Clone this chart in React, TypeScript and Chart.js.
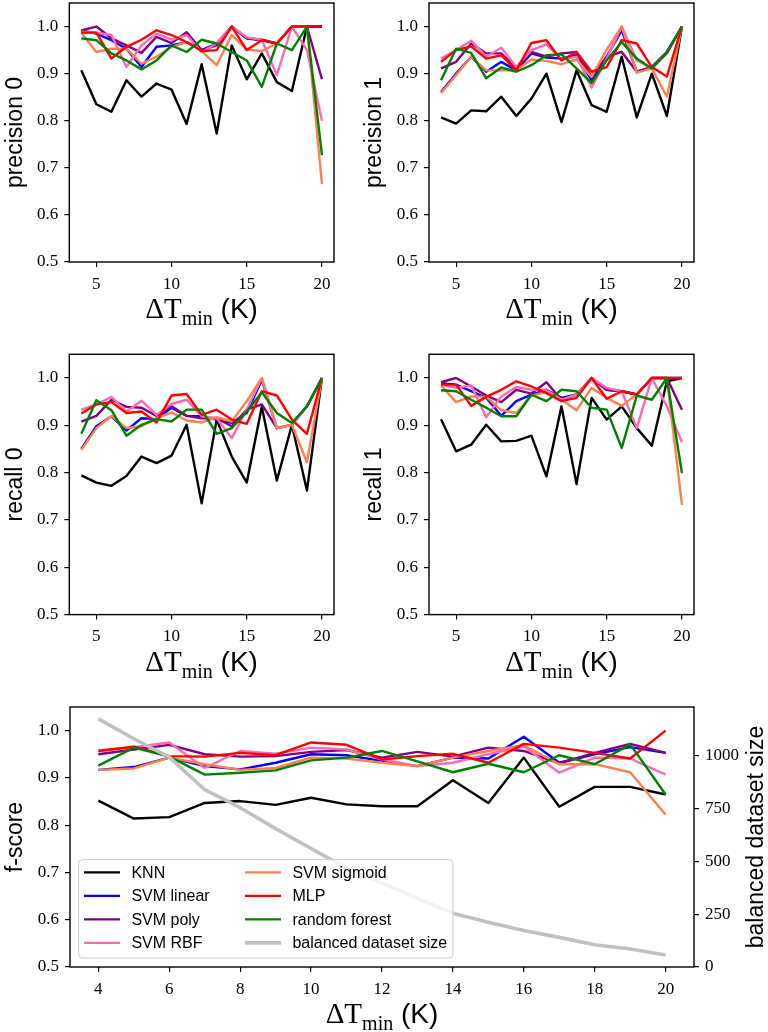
import { useEffect, useRef } from "react";
import { Chart, registerables } from "chart.js";

Chart.register(...registerables);

const deltaT = [4, 5, 6, 7, 8, 9, 10, 11, 12, 13, 14, 15, 16, 17, 18, 19, 20];
const models = ["KNN", "SVM linear", "SVM poly", "SVM RBF", "SVM sigmoid", "MLP", "random forest"];
const modelColors = ["#000000", "#0000ff", "#800080", "#ff69b4", "#ff7f50", "#ff0000", "#008000"];

// one row per model, same order as `models`
const precision0 = [
  [0.907, 0.835, 0.819, 0.886, 0.851, 0.879, 0.866, 0.793, 0.92, 0.773, 0.96, 0.888, 0.943, 0.882, 0.863, 1.0, 1.0],
  [0.992, 0.985, 0.971, 0.953, 0.914, 0.957, 0.96, 0.967, 0.95, 0.964, 1.0, 0.975, 0.971, 0.964, 1.0, 1.0, 1.0],
  [0.992, 1.0, 0.975, 0.96, 0.944, 0.978, 0.965, 0.988, 0.95, 0.96, 1.0, 0.975, 0.972, 0.964, 1.0, 1.0, 0.888],
  [0.989, 0.987, 0.982, 0.914, 0.96, 0.985, 0.972, 0.982, 0.946, 0.964, 1.0, 0.977, 0.972, 0.897, 1.0, 0.95, 0.8],
  [0.987, 0.946, 0.953, 0.953, 0.921, 0.936, 0.957, 0.967, 0.948, 0.918, 0.982, 0.951, 0.948, 0.964, 1.0, 1.0, 0.666],
  [0.987, 0.987, 0.932, 0.957, 0.972, 0.992, 0.982, 0.967, 0.948, 0.95, 1.0, 0.95, 0.971, 0.964, 1.0, 1.0, 1.0],
  [0.975, 0.971, 0.943, 0.928, 0.909, 0.928, 0.96, 0.946, 0.972, 0.964, 0.946, 0.928, 0.872, 0.964, 0.95, 1.0, 0.727],
];

const precision1 = [
  [0.807, 0.794, 0.822, 0.82, 0.851, 0.81, 0.847, 0.9, 0.797, 0.907, 0.833, 0.819, 0.936, 0.807, 0.9, 0.81, 1.0],
  [0.861, 0.9, 0.936, 0.904, 0.925, 0.907, 0.943, 0.934, 0.932, 0.939, 0.886, 0.936, 0.992, 0.904, 0.914, 0.946, 1.0],
  [0.911, 0.925, 0.964, 0.943, 0.943, 0.911, 0.946, 0.936, 0.943, 0.946, 0.893, 0.936, 0.946, 0.904, 0.914, 0.946, 1.0],
  [0.932, 0.95, 0.97, 0.936, 0.955, 0.914, 0.95, 0.962, 0.93, 0.936, 0.87, 0.932, 1.0, 0.928, 0.911, 0.943, 1.0],
  [0.859, 0.897, 0.936, 0.907, 0.907, 0.907, 0.93, 0.927, 0.92, 0.93, 0.893, 0.951, 1.0, 0.902, 0.911, 0.851, 1.0],
  [0.925, 0.95, 0.958, 0.932, 0.939, 0.907, 0.965, 0.971, 0.928, 0.946, 0.904, 0.914, 0.971, 0.964, 0.914, 0.894, 1.0],
  [0.886, 0.953, 0.944, 0.89, 0.913, 0.904, 0.918, 0.939, 0.941, 0.911, 0.88, 0.928, 0.967, 0.932, 0.911, 0.944, 1.0],
];

const recall0 = [
  [0.794, 0.779, 0.772, 0.793, 0.834, 0.82, 0.836, 0.901, 0.735, 0.912, 0.834, 0.779, 0.939, 0.783, 0.901, 0.762, 1.0],
  [0.85, 0.898, 0.919, 0.889, 0.915, 0.913, 0.937, 0.92, 0.919, 0.912, 0.905, 0.926, 0.996, 0.894, 0.901, 0.94, 1.0],
  [0.908, 0.92, 0.954, 0.939, 0.937, 0.92, 0.94, 0.92, 0.915, 0.915, 0.898, 0.933, 0.944, 0.894, 0.901, 0.94, 1.0],
  [0.933, 0.944, 0.96, 0.929, 0.952, 0.922, 0.945, 0.954, 0.919, 0.915, 0.873, 0.933, 1.0, 0.894, 0.901, 0.94, 1.0],
  [0.848, 0.894, 0.92, 0.894, 0.898, 0.915, 0.927, 0.91, 0.906, 0.917, 0.908, 0.951, 1.0, 0.894, 0.901, 0.822, 1.0],
  [0.925, 0.944, 0.949, 0.926, 0.929, 0.906, 0.963, 0.966, 0.922, 0.933, 0.912, 0.903, 0.972, 0.963, 0.912, 0.882, 1.0],
  [0.882, 0.953, 0.932, 0.878, 0.901, 0.913, 0.908, 0.933, 0.933, 0.882, 0.894, 0.929, 0.97, 0.926, 0.905, 0.94, 1.0],
];

const recall1 = [
  [0.913, 0.845, 0.859, 0.901, 0.866, 0.867, 0.878, 0.792, 0.94, 0.776, 0.958, 0.912, 0.94, 0.894, 0.857, 0.993, 1.0],
  [0.989, 0.986, 0.972, 0.958, 0.92, 0.951, 0.965, 0.975, 0.958, 0.965, 1.0, 0.975, 0.972, 0.965, 1.0, 1.0, 1.0],
  [0.991, 1.0, 0.982, 0.963, 0.949, 0.975, 0.967, 0.991, 0.954, 0.965, 1.0, 0.975, 0.972, 0.965, 1.0, 1.0, 0.933],
  [0.986, 0.979, 0.984, 0.917, 0.961, 0.981, 0.975, 0.975, 0.954, 0.965, 1.0, 0.979, 0.972, 0.894, 1.0, 0.94, 0.864],
  [0.984, 0.949, 0.961, 0.96, 0.932, 0.926, 0.963, 0.97, 0.954, 0.932, 0.979, 0.958, 0.941, 0.965, 1.0, 1.0, 0.732],
  [0.986, 0.986, 0.941, 0.96, 0.975, 0.993, 0.982, 0.968, 0.951, 0.958, 1.0, 0.956, 0.972, 0.965, 1.0, 1.0, 1.0],
  [0.974, 0.972, 0.954, 0.937, 0.919, 0.919, 0.965, 0.951, 0.975, 0.972, 0.937, 0.933, 0.852, 0.963, 0.954, 1.0, 0.799],
];

const fScore = [
  [0.852, 0.814, 0.817, 0.847, 0.851, 0.843, 0.858, 0.844, 0.84, 0.84, 0.895, 0.847, 0.943, 0.839, 0.881, 0.881, 0.865],
  [0.917, 0.923, 0.943, 0.925, 0.918, 0.932, 0.95, 0.948, 0.936, 0.925, 0.943, 0.941, 0.987, 0.932, 0.95, 0.965, 0.953],
  [0.95, 0.96, 0.97, 0.95, 0.945, 0.946, 0.955, 0.959, 0.943, 0.955, 0.945, 0.964, 0.957, 0.931, 0.953, 0.972, 0.953],
  [0.958, 0.965, 0.975, 0.921, 0.957, 0.951, 0.964, 0.96, 0.939, 0.925, 0.932, 0.95, 0.967, 0.911, 0.943, 0.941, 0.907],
  [0.917, 0.92, 0.943, 0.929, 0.917, 0.921, 0.943, 0.941, 0.932, 0.925, 0.943, 0.957, 0.969, 0.929, 0.929, 0.912, 0.822],
  [0.957, 0.966, 0.946, 0.945, 0.953, 0.948, 0.975, 0.97, 0.939, 0.946, 0.951, 0.932, 0.972, 0.964, 0.953, 0.941, 1.0],
  [0.926, 0.964, 0.945, 0.907, 0.911, 0.916, 0.937, 0.943, 0.957, 0.935, 0.912, 0.93, 0.912, 0.948, 0.929, 0.971, 0.865],
];

const datasetSize = [1173, 1079, 992, 838, 753, 654, 560, 466, 396, 325, 254, 212, 173, 140, 105, 85, 57];
const sizeLabel = "balanced dataset size";

const scoreTicks = [0.5, 0.6, 0.7, 0.8, 0.9, 1.0];
const coarseTicks = [5, 10, 15, 20];
const fineTicks = [4, 6, 8, 10, 12, 14, 16, 18, 20];
const sizeTicks = [0, 250, 500, 750, 1000];

const SERIF = "'Liberation Serif', 'DejaVu Serif', serif";
const SANS = "'Liberation Sans', Arial, sans-serif";

type Rect = { left: number; top: number; width: number; height: number };
type Area = { l: number; t: number; r: number; b: number };

function drawXLabel(ctx: CanvasRenderingContext2D, cx: number, baseline: number) {
  const main = `29px ${SERIF}`;
  const sub = `20px ${SERIF}`;
  const unit = `28px ${SANS}`;
  ctx.font = main;
  const w1 = ctx.measureText("ΔT").width;
  ctx.font = sub;
  const w2 = ctx.measureText("min").width;
  ctx.font = unit;
  const w3 = ctx.measureText(" (K)").width;
  let x = cx - (w1 + w2 + w3) / 2;
  ctx.textAlign = "left";
  ctx.textBaseline = "alphabetic";
  ctx.fillStyle = "#000";
  ctx.font = main;
  ctx.fillText("ΔT", x, baseline);
  x += w1;
  ctx.font = sub;
  ctx.fillText("min", x, baseline + 7);
  x += w2;
  ctx.font = unit;
  ctx.fillText(" (K)", x, baseline);
}

function drawVTitle(ctx: CanvasRenderingContext2D, text: string, x: number, y: number) {
  ctx.save();
  ctx.translate(x, y);
  ctx.rotate(-Math.PI / 2);
  ctx.textAlign = "center";
  ctx.textBaseline = "middle";
  ctx.font = `23px ${SANS}`;
  ctx.fillStyle = "#000";
  ctx.fillText(text, 0, 0);
  ctx.restore();
}

function drawLegend(chart: Chart) {
  const { ctx, chartArea: a } = chart;
  const w = 374.4;
  const h = 98.3;
  const x0 = a.left + 8.6;
  const y0 = a.bottom - 9 - h;
  ctx.beginPath();
  ctx.roundRect(x0, y0, w, h, 4);
  ctx.fillStyle = "rgba(255,255,255,0.8)";
  ctx.fill();
  ctx.strokeStyle = "#cccccc";
  ctx.lineWidth = 1;
  ctx.stroke();
  ctx.font = `16px ${SANS}`;
  ctx.textAlign = "left";
  ctx.textBaseline = "middle";
  chart.data.datasets.forEach((ds: any, i: number) => {
    const col = Math.floor(i / 4);
    const row = i % 4;
    const y = y0 + 12.7 + row * 23.5;
    const lx = x0 + 5.4 + col * 161;
    ctx.beginPath();
    ctx.moveTo(lx, y);
    ctx.lineTo(lx + 36, y);
    ctx.strokeStyle = ds.borderColor;
    ctx.lineWidth = ds.borderWidth;
    ctx.stroke();
    ctx.fillStyle = "#000";
    ctx.fillText(ds.label, lx + 47.4, y + 1);
  });
}

const decor = {
  id: "decor",
  afterDatasetsDraw(chart: Chart, _args: unknown, opts: any) {
    const { ctx, chartArea: a } = chart;
    ctx.save();
    ctx.strokeStyle = "#000";
    ctx.lineWidth = 1.4;
    ctx.strokeRect(a.left, a.top, a.right - a.left, a.bottom - a.top);
    const midY = (a.top + a.bottom) / 2;
    drawVTitle(ctx, opts.yTitle, a.left - 54, midY);
    if (opts.y2Title) drawVTitle(ctx, opts.y2Title, a.right + 63, midY);
    drawXLabel(ctx, (a.left + a.right) / 2, a.bottom + 56);
    if (opts.legend) drawLegend(chart);
    ctx.restore();
  },
};

interface PanelProps {
  box: Rect;
  area: Area;
  rows: number[][];
  yTitle: string;
  xTicks: number[];
  withSize?: boolean;
}

function Panel({ box, area, rows, yTitle, xTicks, withSize = false }: PanelProps) {
  const canvasRef = useRef<HTMLCanvasElement>(null);

  useEffect(() => {
    if (!canvasRef.current) return;

    const datasets: any[] = rows.map((vals, i) => ({
      label: models[i],
      data: deltaT.map((x, j) => ({ x, y: vals[j] })),
      borderColor: modelColors[i],
      borderWidth: 2.4,
      pointRadius: 0,
      fill: false,
      tension: 0,
      borderJoinStyle: "round",
      yAxisID: "y",
      order: 20 - i,
    }));
    if (withSize) {
      datasets.push({
        label: sizeLabel,
        data: deltaT.map((x, j) => ({ x, y: datasetSize[j] })),
        borderColor: "#c0c0c0",
        borderWidth: 3.6,
        pointRadius: 0,
        fill: false,
        tension: 0,
        borderJoinStyle: "round",
        yAxisID: "y2",
        order: 1,
      });
    }

    const tickFont = { family: SERIF, size: 17 };
    const tickGrid = { display: true, drawOnChartArea: false, drawTicks: true, tickLength: 5, color: "#000", lineWidth: 1.2 };

    const scales: any = {
      x: {
        type: "linear",
        min: 3.2,
        max: 20.8,
        bounds: "data",
        grid: tickGrid,
        border: { display: false },
        ticks: { font: tickFont, color: "#000", padding: 7, maxRotation: 0, autoSkip: false, callback: (v: any) => String(v) },
        afterBuildTicks: (ax: any) => { ax.ticks = xTicks.map((v) => ({ value: v })); },
        afterFit: (ax: any) => { ax.height = 30; ax.paddingLeft = 0; ax.paddingRight = 0; },
      },
      y: {
        type: "linear",
        position: "left",
        min: 0.5,
        max: 1.05,
        bounds: "data",
        grid: tickGrid,
        border: { display: false },
        ticks: { font: tickFont, color: "#000", padding: 6, autoSkip: false, callback: (v: any) => Number(v).toFixed(1) },
        afterBuildTicks: (ax: any) => { ax.ticks = scoreTicks.map((v) => ({ value: v })); },
        afterFit: (ax: any) => { ax.width = area.l - box.left; ax.paddingTop = 0; ax.paddingBottom = 0; },
      },
    };
    if (withSize) {
      scales.y2 = {
        type: "linear",
        position: "right",
        min: 0,
        max: 1229,
        bounds: "data",
        grid: tickGrid,
        border: { display: false },
        ticks: { font: tickFont, color: "#000", padding: 6, autoSkip: false, callback: (v: any) => String(v) },
        afterBuildTicks: (ax: any) => { ax.ticks = sizeTicks.map((v) => ({ value: v })); },
        afterFit: (ax: any) => { ax.width = box.left + box.width - area.r; ax.paddingTop = 0; ax.paddingBottom = 0; },
      };
    }

    const chart = new Chart(canvasRef.current, {
      type: "line",
      data: { datasets },
      options: {
        responsive: false,
        animation: false,
        events: [],
        layout: {
          padding: {
            left: 0,
            top: area.t - box.top,
            right: withSize ? 0 : box.left + box.width - area.r,
            bottom: box.top + box.height - area.b - 30,
          },
        },
        scales,
        plugins: {
          legend: { display: false },
          tooltip: { enabled: false },
          decor: { yTitle, y2Title: withSize ? sizeLabel : null, legend: withSize },
        } as any,
      },
      plugins: [decor as any],
    });

    return () => chart.destroy();
  }, [box, area, rows, yTitle, xTicks, withSize]);

  return (
    <canvas
      ref={canvasRef}
      width={box.width}
      height={box.height}
      style={{ position: "absolute", left: box.left, top: box.top, width: box.width, height: box.height }}
    />
  );
}

const boxTL: Rect = { left: 0, top: 0, width: 384, height: 335 };
const areaTL: Area = { l: 69.3, t: 3, r: 334, b: 262 };
const boxTR: Rect = { left: 350, top: 0, width: 418, height: 335 };
const areaTR: Area = { l: 429, t: 3, r: 694, b: 262 };
const boxML: Rect = { left: 0, top: 335, width: 384, height: 355 };
const areaML: Area = { l: 69.3, t: 354.3, r: 334, b: 614.6 };
const boxMR: Rect = { left: 350, top: 335, width: 418, height: 355 };
const areaMR: Area = { l: 429, t: 354.3, r: 694, b: 614.6 };
const boxB: Rect = { left: 0, top: 690, width: 768, height: 342 };
const areaB: Area = { l: 70, t: 707, r: 694, b: 967 };

export default function App() {
  return (
    <div style={{ position: "absolute", left: 0, top: 0, width: 768, height: 1032, background: "#fff", overflow: "hidden" }}>
      <Panel box={boxTL} area={areaTL} rows={precision0} yTitle="precision 0" xTicks={coarseTicks} />
      <Panel box={boxTR} area={areaTR} rows={precision1} yTitle="precision 1" xTicks={coarseTicks} />
      <Panel box={boxML} area={areaML} rows={recall0} yTitle="recall 0" xTicks={coarseTicks} />
      <Panel box={boxMR} area={areaMR} rows={recall1} yTitle="recall 1" xTicks={coarseTicks} />
      <Panel box={boxB} area={areaB} rows={fScore} yTitle="f-score" xTicks={fineTicks} withSize />
    </div>
  );
}
